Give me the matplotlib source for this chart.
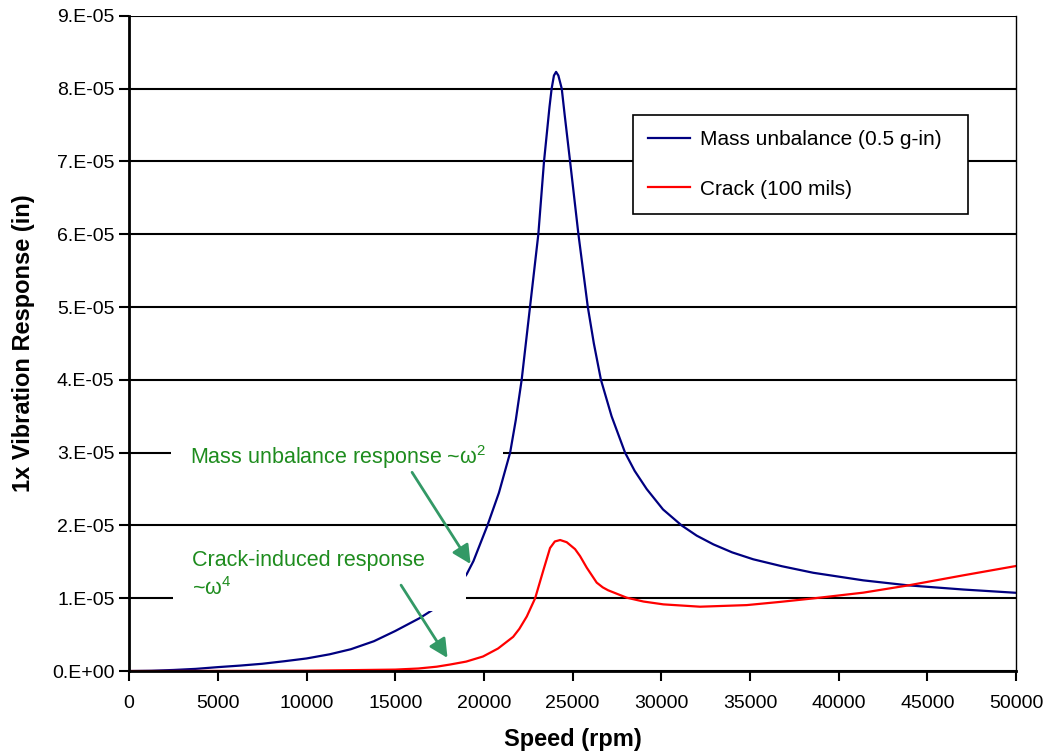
import matplotlib.pyplot as plt
from matplotlib.patches import Rectangle, FancyArrowPatch
import numpy as np

plt.rcParams["font.family"] = ["Liberation Sans", "DejaVu Sans"]
plt.rcParams["mathtext.fontset"] = "custom"
plt.rcParams["mathtext.rm"] = "Liberation Sans"
plt.rcParams["mathtext.it"] = "Liberation Sans"

# mass unbalance response (x1e-5 in)
MASS_RPM = [0, 1250, 2500, 3750, 5000, 6250, 7500, 8750, 10000, 11300,
            12500, 13800, 15000, 16400, 17300, 18200, 19030, 19410, 20200,
            20850, 21480, 21800, 22130, 22600, 23070, 23390, 23700, 23820,
            23950, 24070, 24200, 24390, 24550, 24860, 25330, 25860, 26200,
            26600, 27200, 27960, 28500, 29180, 30100, 31150, 32000, 32940,
            34000, 35190, 36800, 38570, 41390, 43930, 47030, 50000]
MASS_RESP = [0, 0.004, 0.015, 0.03, 0.054, 0.075, 0.10, 0.135, 0.173, 0.23,
             0.30, 0.41, 0.55, 0.73, 0.87, 1.05, 1.33, 1.51, 2.0,
             2.45, 3.0, 3.45, 4.0, 5.0, 6.0, 7.0, 7.75, 8.0,
             8.18, 8.23, 8.18, 8.0, 7.65, 7.0, 6.0, 5.0, 4.5,
             4.0, 3.5, 3.0, 2.75, 2.5, 2.22, 2.0, 1.86, 1.74,
             1.63, 1.535, 1.44, 1.35, 1.246, 1.177, 1.12, 1.075]

# crack-induced response (x1e-5 in)
CRACK_RPM = [0, 5000, 10000, 15000, 16300, 17340, 18100, 19000, 19950,
             20800, 21650, 22000, 22420, 22890, 23360, 23730, 24000, 24300,
             24670, 25140, 25420, 25800, 26360, 26700, 27000, 28050, 29000,
             30120, 32190, 34820, 36700, 38570, 41390, 43930, 47030, 50000]
CRACK_RESP = [0, 0.002, 0.005, 0.02, 0.035, 0.06, 0.09, 0.13, 0.2,
              0.31, 0.47, 0.58, 0.75, 1.0, 1.39, 1.69, 1.78, 1.80,
              1.77, 1.675, 1.58, 1.42, 1.215, 1.15, 1.11, 1.008, 0.955,
              0.916, 0.884, 0.906, 0.95, 0.998, 1.077, 1.177, 1.315, 1.443]

SCALE = 1e-5
Y_TICKS = [i * 1e-5 for i in range(10)]
Y_LABELS = ["0.E+00"] + [f"{i}.E-05" for i in range(1, 10)]
X_TICKS = list(range(0, 50001, 5000))

TEXT_GREEN = "#1e8c1e"
ARROW_GREEN = "#339966"


def main() -> None:
    fig, ax = plt.subplots(figsize=(10.5, 7.54), dpi=100)
    fig.subplots_adjust(left=0.123, right=0.9676, bottom=0.110, top=0.979)

    mass = np.array(MASS_RESP) * SCALE
    crack = np.array(CRACK_RESP) * SCALE

    ax.plot(MASS_RPM, mass, color="#000080", lw=1.6, zorder=2,
            solid_joinstyle="round", label="Mass unbalance (0.5 g-in)")
    ax.plot(CRACK_RPM, crack, color="#ff0000", lw=1.6, zorder=2,
            solid_joinstyle="round", label="Crack (100 mils)")

    ax.set_xlim(0, 50000)
    ax.set_ylim(0, 9e-5)
    ax.set_xticks(X_TICKS)
    ax.set_xticklabels([str(v) for v in X_TICKS])
    ax.set_yticks(Y_TICKS)
    ax.set_yticklabels(Y_LABELS)
    ax.tick_params(axis="both", labelsize=14, length=7, width=1.5,
                   direction="out", color="black")
    ax.tick_params(axis="x", pad=10)
    ax.yaxis.grid(True, color="black", lw=1.5)
    ax.set_axisbelow(True)

    for side in ("left", "bottom"):
        ax.spines[side].set_linewidth(2)
    ax.spines["top"].set_visible(False)
    ax.spines["right"].set_linewidth(1)

    ax.set_xlabel("Speed (rpm)", fontsize=17, fontweight="bold", labelpad=12)
    ax.set_ylabel("1x Vibration Response (in)", fontsize=17,
                  fontweight="bold", labelpad=12)

    # white masks behind the annotation text (break grid lines)
    ax.add_patch(Rectangle((2350, 2.75e-5), 18750, 0.5e-5, facecolor="white",
                           edgecolor="none", zorder=1.5))
    ax.add_patch(Rectangle((2450, 0.83e-5), 16550, 0.95e-5, facecolor="white",
                           edgecolor="none", zorder=2.5))

    ax.text(3450, 2.94e-5, r"Mass unbalance response ~ω$^{2}$", color=TEXT_GREEN,
            fontsize=15.5, va="center", ha="left", zorder=3)
    ax.text(3550, 1.52e-5, "Crack-induced response", color=TEXT_GREEN,
            fontsize=15.5, va="center", ha="left", zorder=3)
    ax.text(3550, 1.13e-5, r"~ω$^{4}$", color=TEXT_GREEN,
            fontsize=15.5, va="center", ha="left", zorder=3)

    for tail, head in [((15950, 2.73e-5), (19250, 1.47e-5)),
                       ((15330, 1.18e-5), (17950, 0.18e-5))]:
        ax.add_patch(FancyArrowPatch(tail, head, arrowstyle="-|>",
                                     mutation_scale=28, lw=2,
                                     color=ARROW_GREEN, zorder=4,
                                     shrinkA=0, shrinkB=0))

    leg = ax.legend(loc="upper left", bbox_to_anchor=(0.568, 0.699, 0.378, 0.150),
                    mode="expand", fontsize=15, frameon=True, fancybox=False,
                    edgecolor="black", framealpha=1, borderpad=0.75,
                    labelspacing=1.45, handlelength=2.0, handletextpad=0.45,
                    borderaxespad=0)
    leg.get_frame().set_linewidth(1.2)
    leg.set_zorder(5)

    fig.savefig("out.png", dpi=100)


if __name__ == "__main__":
    main()
